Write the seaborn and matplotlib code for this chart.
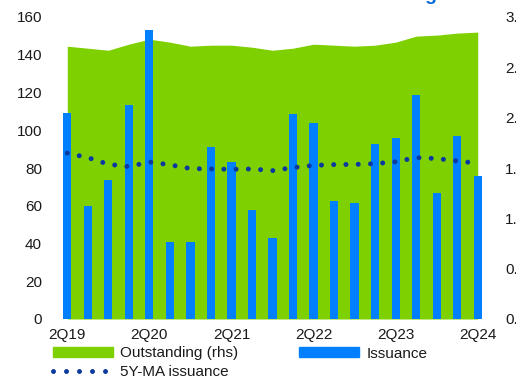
import numpy as np
import pandas as pd
import matplotlib
matplotlib.use("Agg")
import matplotlib.pyplot as plt
from matplotlib.patches import Patch
from matplotlib.lines import Line2D
import seaborn as sns

quarters = ["2Q19", "3Q19", "4Q19", "1Q20", "2Q20", "3Q20", "4Q20", "1Q21", "2Q21", "3Q21", "4Q21",
            "1Q22", "2Q22", "3Q22", "4Q22", "1Q23", "2Q23", "3Q23", "4Q23", "1Q24", "2Q24"]
issuance = [109, 60, 73.5, 113.5, 153, 41, 41, 91, 83, 58, 43,
            108.5, 104, 62.5, 61.5, 92.5, 96, 118.5, 67, 97, 76]
ma_5y = [87.9, 85.5, 82.0, 80.7, 83.2, 81.7, 79.7, 79.5, 79.3, 79.5, 78.6,
         80.2, 81.4, 81.8, 81.9, 82.3, 83.3, 85.5, 85.0, 83.7, 82.5]
outstanding = [2.71, 2.69, 2.67, 2.73, 2.78, 2.75, 2.71, 2.72, 2.72, 2.70, 2.67,
               2.69, 2.73, 2.72, 2.71, 2.72, 2.75, 2.81, 2.82, 2.84, 2.85]
tick_labels = ["2Q19", "2Q20", "2Q21", "2Q22", "2Q23", "2Q24"]

GREEN = "#7ed000"
BLUE = "#0080ff"
NAVY = "#0b3a9e"
TXT = "#1a1a1a"

sns.set_style("white")
plt.rcParams['font.family'] = ['Liberation Sans', 'DejaVu Sans']
plt.rcParams['font.size'] = 11

df = pd.DataFrame({'quarter': quarters, 'issuance': issuance,
                   'ma': ma_5y, 'outstanding': outstanding})
df['pos'] = np.arange(len(df))

fig = plt.figure(figsize=(5.16, 3.76), dpi=100)
ax = fig.add_axes([56 / 516, 57 / 376, 433 / 516, 302 / 376])
ax2 = ax.twinx()

# outstanding on the right axis, behind everything
ax2.fill_between(df['pos'], 0, df['outstanding'], color=GREEN, linewidth=0)
ax2.set_ylim(0, 3)
ax2.set_yticks(np.arange(0, 3.01, 0.5))
ax2.set_yticklabels([f"{v:.1f}" for v in np.arange(0, 3.01, 0.5)])

sns.barplot(data=df, x='quarter', y='issuance', color=BLUE, saturation=1,
            width=0.4, ax=ax, linewidth=0)
sns.lineplot(data=df, x='pos', y='ma', ax=ax, color=NAVY, linewidth=3.6,
             linestyle=(0, (0.001, 2.45)), dash_capstyle='round')

ax.set_zorder(ax2.get_zorder() + 1)
ax.patch.set_visible(False)

ax.set_xlim(-0.55, len(df) - 0.45)
ax.set_ylim(0, 160)
ax.set_yticks(range(0, 161, 20))
ax.set_xticks(df['pos'][::4])
ax.set_xticklabels(tick_labels)
ax.set_xlabel('')
ax.set_ylabel('')

for a in (ax, ax2):
    for s in a.spines.values():
        s.set_visible(False)
    a.grid(False)
ax.tick_params(axis='y', length=0, pad=10, labelsize=11, labelcolor=TXT)
ax.tick_params(axis='x', length=0, pad=6.5, labelsize=11, labelcolor=TXT)
ax2.tick_params(axis='y', length=0, pad=11.5, labelsize=11, labelcolor=TXT)

handles = [Patch(color=GREEN, label='Outstanding (rhs)'),
           Line2D([], [], color=NAVY, linewidth=3.6, linestyle=(0, (0.001, 2.6)),
                  dash_capstyle='round', label='5Y-MA issuance'),
           Patch(color=BLUE, label='Issuance')]
fig.legend(handles=handles, ncol=2, loc='upper left', bbox_to_anchor=(53 / 516, 1 - 346.5 / 376),
           frameon=False, borderpad=0, borderaxespad=0, handlelength=3.9, handleheight=0.6,
           handletextpad=0.5, columnspacing=4.0, labelspacing=0.3, fontsize=11,
           labelcolor=TXT)

# title sits mostly above the canvas; only its lowest pixels remain visible
fig.text(60 / 516, 1 + 0.4 / 376, "Covered bond issuance and outstanding", color="#0a6ad8",
         fontsize=14, fontweight='bold', ha='left', va='baseline')

fig.savefig("out.png", dpi=100)
